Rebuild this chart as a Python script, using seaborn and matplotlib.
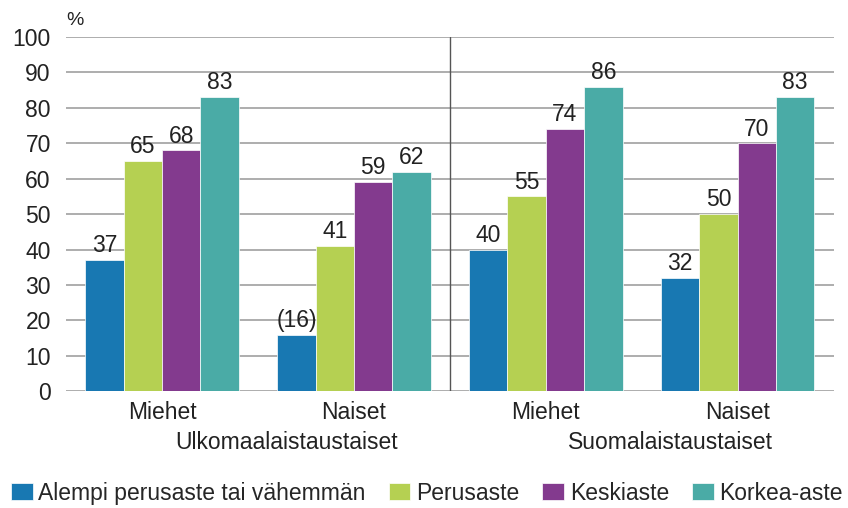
import numpy as np
import pandas as pd
import matplotlib.pyplot as plt
import seaborn as sns

# Data
groups = ["Ulkomaalaistaustaiset", "Suomalaistaustaiset"]
sexes = ["Miehet", "Naiset"]
levels = ["Alempi perusaste tai vähemmän", "Perusaste", "Keskiaste", "Korkea-aste"]
values = {
    "Alempi perusaste tai vähemmän": [37, 16, 40, 32],
    "Perusaste": [65, 41, 55, 50],
    "Keskiaste": [68, 59, 74, 70],
    "Korkea-aste": [83, 62, 86, 83],
}
value_labels = {
    "Alempi perusaste tai vähemmän": ["37", "(16)", "40", "32"],
    "Perusaste": ["65", "41", "55", "50"],
    "Keskiaste": ["68", "59", "74", "70"],
    "Korkea-aste": ["83", "62", "86", "83"],
}
colors = ["#1878b2", "#b5d052", "#833a8e", "#4aaba6"]

cats = [g + " " + s for g in groups for s in sexes]
rows = []
for lev in levels:
    for c, v in zip(cats, values[lev]):
        rows.append({"cat": c, "level": lev, "value": v})
df = pd.DataFrame(rows)

sns.set_style("white")
plt.rcParams["font.family"] = ["Liberation Sans", "DejaVu Sans"]
fs = 16.5
txt = "#222222"

fig, ax = plt.subplots(figsize=(8.48, 5.08), dpi=100)
fig.subplots_adjust(left=0.078, right=0.983, top=0.927, bottom=0.230)

ax.set_axisbelow(True)
for y in range(0, 101, 10):
    ax.axhline(y, color="#a0a0a0", lw=1.2, zorder=0)

sns.barplot(data=df, x="cat", y="value", hue="level", order=cats,
            hue_order=levels, palette=colors, width=0.8, saturation=1,
            edgecolor="white", linewidth=0.5, ax=ax)

for cont, lev in zip(ax.containers, levels):
    ax.bar_label(cont, labels=value_labels[lev], padding=2, fontsize=fs,
                 color=txt)

ax.axvline(1.5, ymin=0, ymax=1, color="#555555", lw=1, zorder=1)

ax.set_ylim(0, 100)
ax.set_xlim(-0.5, 3.5)
ax.set_yticks(range(0, 101, 10))
ax.tick_params(axis="y", labelsize=fs, length=0, pad=11, colors=txt)
ax.set_xticks(range(4))
ax.set_xticklabels(sexes * 2)
ax.tick_params(axis="x", labelsize=fs, length=0, pad=7, colors=txt)
for sp in ax.spines.values():
    sp.set_visible(False)
ax.set_xlabel("")
ax.set_ylabel("")

# group labels sit a little right of the group centre, as in the original
for i, g in enumerate(groups):
    ax.text(0.65 + 2 * i, -14.4, g, ha="center", va="center", fontsize=fs,
            color=txt)

ax.text(0.0, 1.048, "%", transform=ax.transAxes, fontsize=14,
        ha="left", va="center", color=txt)

ax.legend(loc="center", bbox_to_anchor=(0.47, -0.288), ncol=4,
          frameon=False, fontsize=fs, handlelength=0.95, handleheight=0.75,
          handletextpad=0.25, columnspacing=1.0, borderaxespad=0)

fig.savefig("out.png", dpi=100)
